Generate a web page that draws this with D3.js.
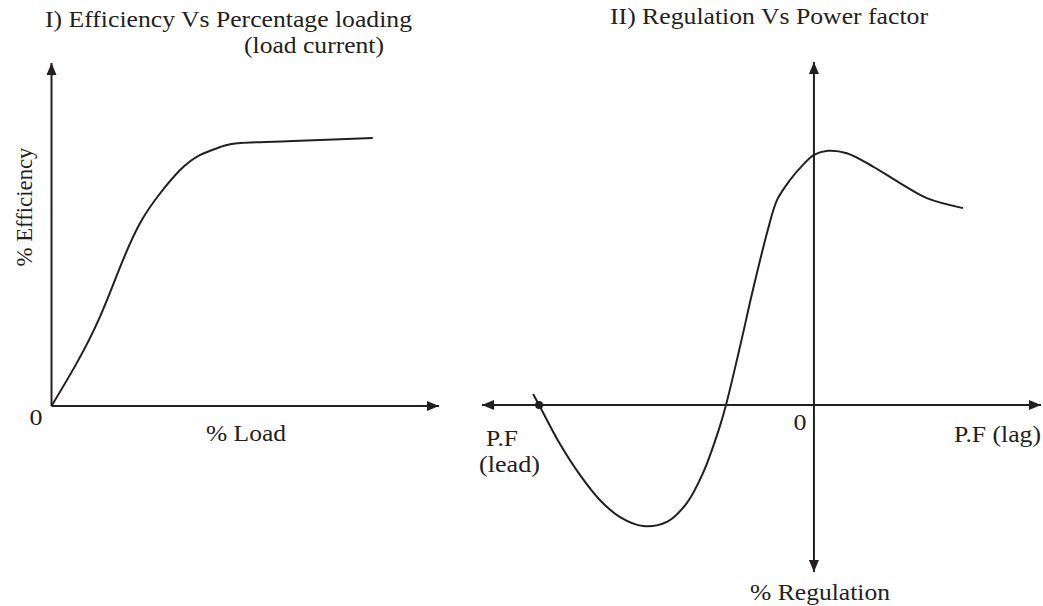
<!DOCTYPE html>
<html>
<head>
<meta charset="utf-8">
<script src="https://cdn.jsdelivr.net/npm/d3@7"></script>
<style>
  body { margin: 0; background: #fff; }
  svg { display: block; }
  text { font-family: "Liberation Serif", "Times New Roman", serif; fill: #231f20; }
</style>
</head>
<body>
<svg id="chart"></svg>
<script>
const width = 1043;
const height = 606;
const ink = "#231f20";

// I) efficiency vs % load (0..100 scales)
const loadPct = [0, 6.5, 12.5, 17.7, 22.9, 28.1, 33.2, 38.4, 43.6, 48.8, 64.3, 82.9];
const efficiencyPct = [0, 12.5, 26, 40.5, 53.4, 62.1, 68.8, 73.2, 75.5, 76.7, 77.3, 78.1];

// II) regulation vs power factor (lead < 0 < lag), arbitrary units
const powerFactor = [-8.46, -8.28, -7.65, -7.05, -6.45, -5.84, -5.15, -4.43, -3.83, -3.34, -2.89, -2.65,
  -2.23, -1.84, -1.39, -1.11, -0.72, -0.33, 0, 0.42, 0.99, 1.78, 2.59, 3.4, 4.49];
const regulation = [0.32, 0, -1.14, -2.04, -2.77, -3.27, -3.53, -3.41, -2.86, -1.98, -0.79, 0,
  1.69, 3.35, 5.1, 5.98, 6.56, 7.0, 7.29, 7.41, 7.34, 6.95, 6.47, 6.03, 5.74];
const leadMark = [-8.28, 0];

const svg = d3.select("#chart")
    .attr("width", width)
    .attr("height", height);

svg.append("defs").append("marker")
    .attr("id", "arrow")
    .attr("viewBox", "0 0 12 10")
    .attr("refX", 12)
    .attr("refY", 5)
    .attr("markerWidth", 12)
    .attr("markerHeight", 10)
    .attr("markerUnits", "userSpaceOnUse")
    .attr("orient", "auto")
    .append("path")
    .attr("d", "M0,0 L12,5 L0,10 Z")
    .attr("fill", ink);

function axisLine(x1, y1, x2, y2) {
    svg.append("line")
        .attr("x1", x1).attr("y1", y1)
        .attr("x2", x2).attr("y2", y2)
        .attr("stroke", ink)
        .attr("stroke-width", 2)
        .attr("marker-end", "url(#arrow)");
}

// the source lettering is a little wider than plain Times, so stretch to the measured width
function label(x, y, str, len, anchor) {
    const t = svg.append("text")
        .attr("x", x)
        .attr("y", y)
        .attr("font-size", 22.5)
        .style("text-anchor", anchor || "start")
        .text(str);
    if (len) t.attr("textLength", len).attr("lengthAdjust", "spacingAndGlyphs");
    return t;
}

// ---------- chart I ----------
const x1 = d3.scaleLinear().domain([0, 100]).range([51.5, 439]);
const y1 = d3.scaleLinear().domain([0, 100]).range([406, 63]);

axisLine(x1(0), y1(0), x1(0), y1(100));
axisLine(x1(0), y1(0), x1(100), y1(0));

svg.append("path")
    .datum(d3.zip(loadPct, efficiencyPct))
    .attr("fill", "none")
    .attr("stroke", ink)
    .attr("stroke-width", 2)
    .attr("d", d3.line()
        .x(d => x1(d[0]))
        .y(d => y1(d[1]))
        .curve(d3.curveNatural));

label(45, 27, "I) Efficiency Vs Percentage loading", 367);
label(244, 53, "(load current)", 140);
label(36, 425, "0", 13, "middle");
label(246, 441, "% Load", 80, "middle");
label(0, 0, "% Efficiency", 119, "middle")
    .attr("transform", "translate(32,207) rotate(-90)");

// ---------- chart II ----------
const x2 = d3.scaleLinear().domain([-10, 6.84]).range([482, 1041]);
const y2 = d3.scaleLinear().domain([-4.87, 10]).range([572, 62]);

axisLine(x2(0), y2(0), x2(6.84), y2(0));
axisLine(x2(0), y2(0), x2(-10), y2(0));
axisLine(x2(0), y2(0), x2(0), y2(10));
axisLine(x2(0), y2(0), x2(0), y2(-4.87));

svg.append("path")
    .datum(d3.zip(powerFactor, regulation))
    .attr("fill", "none")
    .attr("stroke", ink)
    .attr("stroke-width", 2)
    .attr("d", d3.line()
        .x(d => x2(d[0]))
        .y(d => y2(d[1]))
        .curve(d3.curveCatmullRom));

svg.append("circle")
    .attr("cx", x2(leadMark[0]))
    .attr("cy", y2(leadMark[1]))
    .attr("r", 4)
    .attr("fill", ink);

label(610, 24, "II) Regulation Vs Power factor", 318);
label(800, 430, "0", 13, "middle");
label(954, 442, "P.F (lag)", 87);
label(486, 446, "P.F", 32);
label(479, 472, "(lead)", 61);
label(820, 600, "% Regulation", 140, "middle");
</script>
</body>
</html>
